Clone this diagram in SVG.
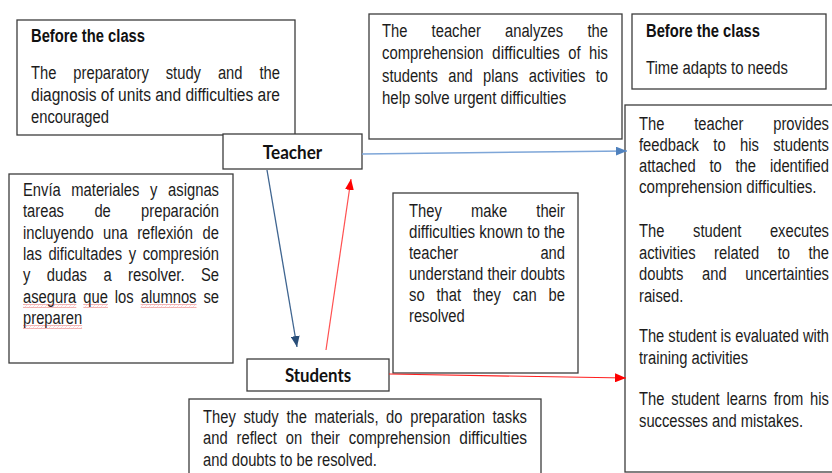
<svg xmlns="http://www.w3.org/2000/svg" width="832" height="473" viewBox="0 0 832 473">
  <style>
    .box { fill: #ffffff; stroke: #3c3c3c; stroke-width: 1.3; }
    .t { font-family: "Liberation Sans Narrow", "Liberation Sans", Arial, sans-serif; font-size: 18px; fill: #1c1c1c; }
    .b { font-family: "Liberation Sans Narrow", "Liberation Sans", Arial, sans-serif; font-size: 18px; font-weight: bold; fill: #111111; }
    .lbl { font-family: Lato, "Open Sans", "Liberation Sans", sans-serif; font-size: 18px; font-weight: bold; fill: #111111; text-anchor: middle; }
    .c { fill: none; }
  </style>
  <defs>
    <marker id="headLight" viewBox="0 0 10 10" refX="10" refY="5" markerWidth="11" markerHeight="9" markerUnits="userSpaceOnUse" orient="auto" preserveAspectRatio="none">
      <path d="M0,0 L10,5 L0,10 z" fill="#4f81bd"/>
    </marker>
    <marker id="headDark" viewBox="0 0 10 10" refX="10" refY="5" markerWidth="11" markerHeight="9" markerUnits="userSpaceOnUse" orient="auto" preserveAspectRatio="none">
      <path d="M0,0 L10,5 L0,10 z" fill="#284d78"/>
    </marker>
    <marker id="headRed" viewBox="0 0 10 10" refX="10" refY="5" markerWidth="11" markerHeight="9" markerUnits="userSpaceOnUse" orient="auto" preserveAspectRatio="none">
      <path d="M0,0 L10,5 L0,10 z" fill="#ff0000"/>
    </marker>
    <!-- spell-check squiggle -->
    <pattern id="squiggle" width="4" height="3" patternUnits="userSpaceOnUse">
      <path d="M0,2.2 Q1,0.2 2,1.5 T4,0.8" fill="none" stroke="#e02020" stroke-width="0.8"/>
    </pattern>
  </defs>

  <!-- top-left: before the class -->
  <g id="before-class-left">
    <rect class="box" x="17" y="20" width="278" height="115"/>
    <text class="b" x="31" y="42" textLength="114" lengthAdjust="spacingAndGlyphs">Before the class</text>
    <text class="t" x="31" y="79" textLength="25.4" lengthAdjust="spacingAndGlyphs">The</text>
    <text class="t" x="73.3" y="79" textLength="75.5" lengthAdjust="spacingAndGlyphs">preparatory</text>
    <text class="t" x="165.7" y="79" textLength="35.3" lengthAdjust="spacingAndGlyphs">study</text>
    <text class="t" x="217.9" y="79" textLength="24.6" lengthAdjust="spacingAndGlyphs">and</text>
    <text class="t" x="259.4" y="79" textLength="20.5" lengthAdjust="spacingAndGlyphs">the</text>
    <text class="t" x="31" y="101" textLength="249" lengthAdjust="spacingAndGlyphs">diagnosis of units and difficulties are</text>
    <text class="t" x="31" y="123" textLength="77.9" lengthAdjust="spacingAndGlyphs">encouraged</text>
  </g>

  <!-- top-middle: teacher analysis -->
  <g id="teacher-analysis">
    <rect class="box" x="369" y="14" width="253" height="125"/>
    <text class="t" x="382" y="37" textLength="25.4" lengthAdjust="spacingAndGlyphs">The</text>
    <text class="t" x="431.6" y="37" textLength="49.2" lengthAdjust="spacingAndGlyphs">teacher</text>
    <text class="t" x="505" y="37" textLength="58.2" lengthAdjust="spacingAndGlyphs">analyzes</text>
    <text class="t" x="587.4" y="37" textLength="20.5" lengthAdjust="spacingAndGlyphs">the</text>
    <text class="t" x="382" y="59" textLength="101.6" lengthAdjust="spacingAndGlyphs">comprehension</text>
    <text class="t" x="492.1" y="59" textLength="67.7" lengthAdjust="spacingAndGlyphs">difficulties</text>
    <text class="t" x="568.3" y="59" textLength="12.3" lengthAdjust="spacingAndGlyphs">of</text>
    <text class="t" x="589.1" y="59" textLength="18.9" lengthAdjust="spacingAndGlyphs">his</text>
    <text class="t" x="382" y="82" textLength="55.8" lengthAdjust="spacingAndGlyphs">students</text>
    <text class="t" x="448.2" y="82" textLength="24.6" lengthAdjust="spacingAndGlyphs">and</text>
    <text class="t" x="483.1" y="82" textLength="35.3" lengthAdjust="spacingAndGlyphs">plans</text>
    <text class="t" x="528.8" y="82" textLength="56.6" lengthAdjust="spacingAndGlyphs">activities</text>
    <text class="t" x="595.7" y="82" textLength="12.3" lengthAdjust="spacingAndGlyphs">to</text>
    <text class="t" x="382" y="104" textLength="184.2" lengthAdjust="spacingAndGlyphs">help solve urgent difficulties</text>
  </g>

  <!-- top-right: before the class -->
  <g id="before-class-right">
    <rect class="box" x="632" y="14" width="194" height="75"/>
    <text class="b" x="646" y="37" textLength="114" lengthAdjust="spacingAndGlyphs">Before the class</text>
    <text class="t" x="646" y="74" textLength="141.9" lengthAdjust="spacingAndGlyphs">Time adapts to needs</text>
  </g>

  <!-- right column: feedback and evaluation -->
  <g id="feedback">
    <rect class="box" x="625" y="105" width="212" height="367"/>
    <text class="t" x="639" y="130" textLength="25.4" lengthAdjust="spacingAndGlyphs">The</text>
    <text class="t" x="694.2" y="130" textLength="49.2" lengthAdjust="spacingAndGlyphs">teacher</text>
    <text class="t" x="773.2" y="130" textLength="55.8" lengthAdjust="spacingAndGlyphs">provides</text>
    <text class="t" x="639" y="151" textLength="59.9" lengthAdjust="spacingAndGlyphs">feedback</text>
    <text class="t" x="713.3" y="151" textLength="12.3" lengthAdjust="spacingAndGlyphs">to</text>
    <text class="t" x="740" y="151" textLength="18.9" lengthAdjust="spacingAndGlyphs">his</text>
    <text class="t" x="773.2" y="151" textLength="55.8" lengthAdjust="spacingAndGlyphs">students</text>
    <text class="t" x="639" y="172" textLength="56.6" lengthAdjust="spacingAndGlyphs">attached</text>
    <text class="t" x="709.4" y="172" textLength="12.3" lengthAdjust="spacingAndGlyphs">to</text>
    <text class="t" x="735.5" y="172" textLength="20.5" lengthAdjust="spacingAndGlyphs">the</text>
    <text class="t" x="769.9" y="172" textLength="59.1" lengthAdjust="spacingAndGlyphs">identified</text>
    <text class="t" x="639" y="193" textLength="177.5" lengthAdjust="spacingAndGlyphs">comprehension difficulties.</text>

    <text class="t" x="639" y="237" textLength="25.4" lengthAdjust="spacingAndGlyphs">The</text>
    <text class="t" x="693" y="237" textLength="48.4" lengthAdjust="spacingAndGlyphs">student</text>
    <text class="t" x="769.9" y="237" textLength="59.1" lengthAdjust="spacingAndGlyphs">executes</text>
    <text class="t" x="639" y="259" textLength="56.6" lengthAdjust="spacingAndGlyphs">activities</text>
    <text class="t" x="714.1" y="259" textLength="45.1" lengthAdjust="spacingAndGlyphs">related</text>
    <text class="t" x="777.7" y="259" textLength="12.3" lengthAdjust="spacingAndGlyphs">to</text>
    <text class="t" x="808.5" y="259" textLength="20.5" lengthAdjust="spacingAndGlyphs">the</text>
    <text class="t" x="639" y="280" textLength="44.3" lengthAdjust="spacingAndGlyphs">doubts</text>
    <text class="t" x="702" y="280" textLength="24.6" lengthAdjust="spacingAndGlyphs">and</text>
    <text class="t" x="745.3" y="280" textLength="83.7" lengthAdjust="spacingAndGlyphs">uncertainties</text>
    <text class="t" x="639" y="302" textLength="44.3" lengthAdjust="spacingAndGlyphs">raised.</text>

    <text class="t" x="639" y="342" textLength="190" lengthAdjust="spacingAndGlyphs">The student is evaluated with</text>
    <text class="t" x="639" y="364" textLength="109.1" lengthAdjust="spacingAndGlyphs">training activities</text>

    <text class="t" x="639" y="405" textLength="25.4" lengthAdjust="spacingAndGlyphs">The</text>
    <text class="t" x="671.3" y="405" textLength="48.4" lengthAdjust="spacingAndGlyphs">student</text>
    <text class="t" x="726.6" y="405" textLength="40.2" lengthAdjust="spacingAndGlyphs">learns</text>
    <text class="t" x="773.7" y="405" textLength="29.5" lengthAdjust="spacingAndGlyphs">from</text>
    <text class="t" x="810.1" y="405" textLength="18.9" lengthAdjust="spacingAndGlyphs">his</text>
    <text class="t" x="639" y="427" textLength="164.1" lengthAdjust="spacingAndGlyphs">successes and mistakes.</text>
  </g>

  <!-- left: teacher sends materials -->
  <g id="sends-materials">
    <rect class="box" x="9" y="174" width="224" height="189"/>
    <text class="t" x="23" y="196" textLength="37.7" lengthAdjust="spacingAndGlyphs">Envía</text>
    <text class="t" x="71.3" y="196" textLength="68.1" lengthAdjust="spacingAndGlyphs">materiales</text>
    <text class="t" x="150" y="196" textLength="7.4" lengthAdjust="spacingAndGlyphs">y</text>
    <text class="t" x="168.1" y="196" textLength="50.9" lengthAdjust="spacingAndGlyphs">asignas</text>
    <text class="t" x="23" y="217" textLength="41" lengthAdjust="spacingAndGlyphs">tareas</text>
    <text class="t" x="94.4" y="217" textLength="16.4" lengthAdjust="spacingAndGlyphs">de</text>
    <text class="t" x="141.1" y="217" textLength="77.9" lengthAdjust="spacingAndGlyphs">preparación</text>
    <text class="t" x="23" y="239" textLength="70.6" lengthAdjust="spacingAndGlyphs">incluyendo</text>
    <text class="t" x="103.1" y="239" textLength="24.6" lengthAdjust="spacingAndGlyphs">una</text>
    <text class="t" x="137.2" y="239" textLength="55.8" lengthAdjust="spacingAndGlyphs">reflexión</text>
    <text class="t" x="202.6" y="239" textLength="16.4" lengthAdjust="spacingAndGlyphs">de</text>
    <text class="t" x="23" y="260" textLength="18.9" lengthAdjust="spacingAndGlyphs">las</text>
    <text class="t" x="48.4" y="260" textLength="73.8" lengthAdjust="spacingAndGlyphs">dificultades</text>
    <text class="t" x="128.7" y="260" textLength="7.4" lengthAdjust="spacingAndGlyphs">y</text>
    <text class="t" x="142.7" y="260" textLength="76.3" lengthAdjust="spacingAndGlyphs">compresión</text>
    <text class="t" x="23" y="281" textLength="7.4" lengthAdjust="spacingAndGlyphs">y</text>
    <text class="t" x="46.8" y="281" textLength="40.2" lengthAdjust="spacingAndGlyphs">dudas</text>
    <text class="t" x="103.4" y="281" textLength="8.2" lengthAdjust="spacingAndGlyphs">a</text>
    <text class="t" x="128" y="281" textLength="56.6" lengthAdjust="spacingAndGlyphs">resolver.</text>
    <text class="t" x="200.9" y="281" textLength="18.1" lengthAdjust="spacingAndGlyphs">Se</text>
    <text class="t" x="23" y="303" textLength="53.3" lengthAdjust="spacingAndGlyphs">asegura</text>
    <text class="t" x="83.3" y="303" textLength="24.6" lengthAdjust="spacingAndGlyphs">que</text>
    <text class="t" x="114.8" y="303" textLength="18.9" lengthAdjust="spacingAndGlyphs">los</text>
    <text class="t" x="140.7" y="303" textLength="55.8" lengthAdjust="spacingAndGlyphs">alumnos</text>
    <text class="t" x="203.4" y="303" textLength="15.6" lengthAdjust="spacingAndGlyphs">se</text>
    <text class="t" x="23" y="324" textLength="59.1" lengthAdjust="spacingAndGlyphs">preparen</text>
    <rect x="23" y="304.5" width="53.3" height="3" fill="url(#squiggle)"/>
    <rect x="83.3" y="304.5" width="24.6" height="3" fill="url(#squiggle)"/>
    <rect x="140.7" y="304.5" width="55.8" height="3" fill="url(#squiggle)"/>
    <rect x="23" y="325.5" width="59.1" height="3" fill="url(#squiggle)"/>
  </g>

  <!-- middle: students make difficulties known -->
  <g id="difficulties-known">
    <rect class="box" x="393" y="193" width="185" height="180"/>
    <text class="t" x="409" y="217" textLength="32.8" lengthAdjust="spacingAndGlyphs">They</text>
    <text class="t" x="471" y="217" textLength="36.1" lengthAdjust="spacingAndGlyphs">make</text>
    <text class="t" x="536.3" y="217" textLength="28.7" lengthAdjust="spacingAndGlyphs">their</text>
    <text class="t" x="409" y="238" textLength="156" lengthAdjust="spacingAndGlyphs">difficulties known to the</text>
    <text class="t" x="409" y="259" textLength="49.2" lengthAdjust="spacingAndGlyphs">teacher</text>
    <text class="t" x="540.4" y="259" textLength="24.6" lengthAdjust="spacingAndGlyphs">and</text>
    <text class="t" x="409" y="280" textLength="156" lengthAdjust="spacingAndGlyphs">understand their doubts</text>
    <text class="t" x="409" y="301" textLength="15.6" lengthAdjust="spacingAndGlyphs">so</text>
    <text class="t" x="436.5" y="301" textLength="24.6" lengthAdjust="spacingAndGlyphs">that</text>
    <text class="t" x="473" y="301" textLength="27.9" lengthAdjust="spacingAndGlyphs">they</text>
    <text class="t" x="512.8" y="301" textLength="23.8" lengthAdjust="spacingAndGlyphs">can</text>
    <text class="t" x="548.6" y="301" textLength="16.4" lengthAdjust="spacingAndGlyphs">be</text>
    <text class="t" x="409" y="322" textLength="55.8" lengthAdjust="spacingAndGlyphs">resolved</text>
  </g>

  <!-- bottom: students study -->
  <g id="students-study">
    <rect class="box" x="189" y="399" width="352" height="80"/>
    <text class="t" x="203" y="423" textLength="32.8" lengthAdjust="spacingAndGlyphs">They</text>
    <text class="t" x="243.4" y="423" textLength="35.3" lengthAdjust="spacingAndGlyphs">study</text>
    <text class="t" x="286.4" y="423" textLength="20.5" lengthAdjust="spacingAndGlyphs">the</text>
    <text class="t" x="314.5" y="423" textLength="64" lengthAdjust="spacingAndGlyphs">materials,</text>
    <text class="t" x="386.1" y="423" textLength="16.4" lengthAdjust="spacingAndGlyphs">do</text>
    <text class="t" x="410.2" y="423" textLength="74.7" lengthAdjust="spacingAndGlyphs">preparation</text>
    <text class="t" x="492.5" y="423" textLength="34.5" lengthAdjust="spacingAndGlyphs">tasks</text>
    <text class="t" x="203" y="444" textLength="24.6" lengthAdjust="spacingAndGlyphs">and</text>
    <text class="t" x="236.6" y="444" textLength="40.2" lengthAdjust="spacingAndGlyphs">reflect</text>
    <text class="t" x="285.7" y="444" textLength="16.4" lengthAdjust="spacingAndGlyphs">on</text>
    <text class="t" x="311.1" y="444" textLength="28.7" lengthAdjust="spacingAndGlyphs">their</text>
    <text class="t" x="348.8" y="444" textLength="101.6" lengthAdjust="spacingAndGlyphs">comprehension</text>
    <text class="t" x="459.3" y="444" textLength="67.7" lengthAdjust="spacingAndGlyphs">difficulties</text>
    <text class="t" x="203" y="466" textLength="173.9" lengthAdjust="spacingAndGlyphs">and doubts to be resolved.</text>
  </g>

  <!-- actor nodes -->
  <g id="teacher">
    <rect class="box" x="223" y="134" width="139" height="35"/>
    <text class="lbl" x="292.5" y="159" textLength="59.3" lengthAdjust="spacingAndGlyphs">Teacher</text>
  </g>
  <g id="students">
    <rect class="box" x="247" y="359" width="142" height="32"/>
    <text class="lbl" x="318" y="382" textLength="66.2" lengthAdjust="spacingAndGlyphs">Students</text>
  </g>

  <!-- connectors -->
  <g id="connectors" class="c">
    <line x1="362" y1="154" x2="627" y2="151" stroke="#7ea6d8" stroke-width="1.5" marker-end="url(#headLight)"/>
    <line x1="267" y1="170" x2="297" y2="347" stroke="#3f6590" stroke-width="1.3" marker-end="url(#headDark)"/>
    <line x1="326" y1="350" x2="351" y2="179" stroke="#ff5050" stroke-width="1.2" marker-end="url(#headRed)"/>
    <line x1="389" y1="374" x2="626" y2="378" stroke="#ff2020" stroke-width="1.2" marker-end="url(#headRed)"/>
  </g>
</svg>
